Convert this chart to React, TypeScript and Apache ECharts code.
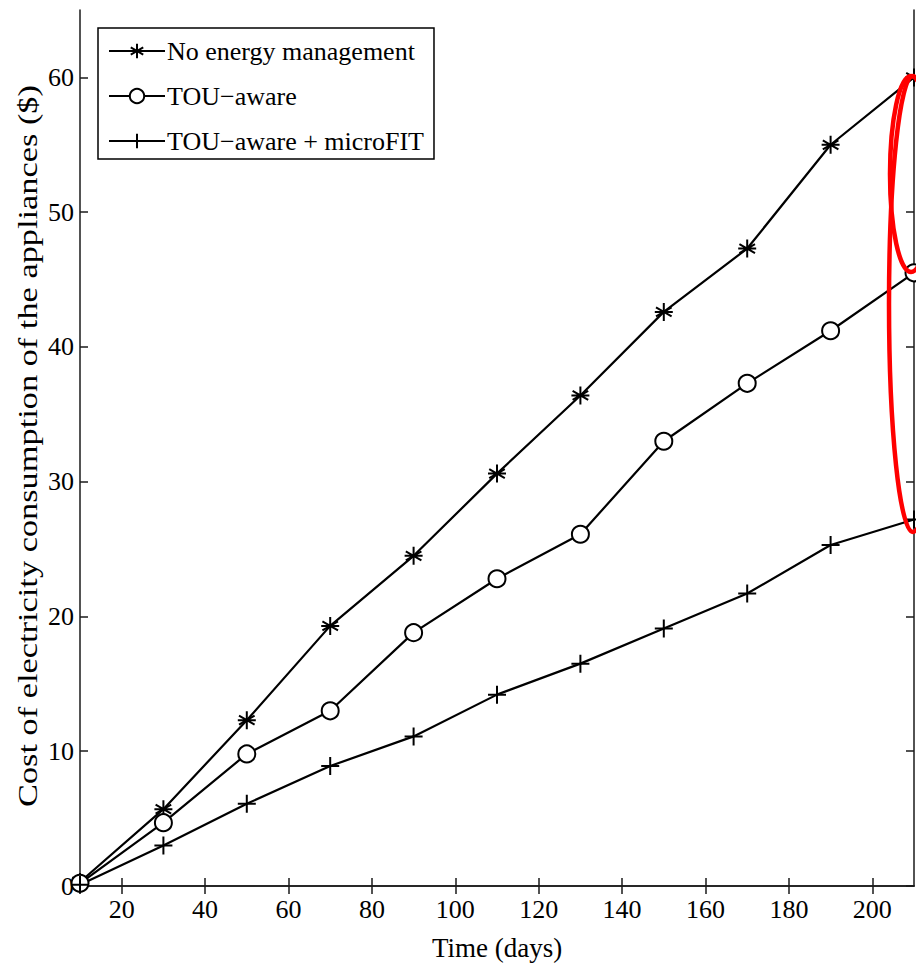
import React, { useEffect, useRef } from "react";
import * as echarts from "echarts";

const days = [10, 30, 50, 70, 90, 110, 130, 150, 170, 190, 210];
const noManagement = [0.3, 5.7, 12.3, 19.3, 24.5, 30.6, 36.4, 42.6, 47.3, 55.0, 60.0];
const touAware = [0.2, 4.7, 9.8, 13.0, 18.8, 22.8, 26.1, 33.0, 37.3, 41.2, 45.5];
const touMicroFit = [0.1, 3.0, 6.1, 8.9, 11.1, 14.2, 16.5, 19.1, 21.7, 25.3, 27.2];
const xTicks = [20, 40, 60, 80, 100, 120, 140, 160, 180, 200];
const yTicks = [0, 10, 20, 30, 40, 50, 60];
const seriesNames = ["No energy management", "TOU\u2212aware", "TOU\u2212aware + microFIT"];
const yTitle = "Cost of electricity consumption of the appliances ($)";

const FONT = "'Liberation Serif', 'Times New Roman', serif";
const STAR = "path://M0,-10L0,10M-8.66,-5L8.66,5M-8.66,5L8.66,-5M-10,0L10,0";
const PLUS = "path://M0,-10L0,10M-10,0L10,0";

function measure(text: string, font: string): number {
  try {
    const c = document.createElement("canvas").getContext("2d");
    if (!c) return 600;
    c.font = font;
    return c.measureText(text).width || 600;
  } catch (e) {
    return 600;
  }
}

export default function App() {
  const ref = useRef<HTMLDivElement>(null);
  useEffect(() => {
    if (!ref.current) return;
    const chart = echarts.init(ref.current, null, { renderer: "svg" });
    const pair = (ys: number[]) => days.map((d, i) => [d, ys[i]]);
    const axisLine = { show: true, lineStyle: { color: "#1a1a1a", width: 1.5 } };
    const tick = (vals: number[]) => ({
      show: true,
      inside: true,
      length: 8,
      customValues: vals,
      lineStyle: { color: "#1a1a1a", width: 1.5 },
    });
    const lineSeries = (name: string, ys: number[], symbol: string, size: number) => ({
      type: "line",
      name,
      data: pair(ys),
      symbol,
      symbolSize: size,
      showAllSymbol: true,
      lineStyle: { color: "#000", width: 2.2 },
      itemStyle: { color: "#000", borderColor: "#000", borderWidth: 2 },
      emphasis: { disabled: true },
      clip: false,
    });
    const titleFont = "28px 'Liberation Serif'";
    const titleW = measure(yTitle, titleFont);
    const titleScale = 722 / titleW;
    chart.setOption({
      animation: false,
      backgroundColor: "#fff",
      grid: { left: 80, right: 2, top: 10, bottom: 79, containLabel: false },
      legend: {
        show: true,
        left: 98,
        top: 28,
        orient: "vertical",
        data: seriesNames,
        itemWidth: 56,
        itemHeight: 18,
        itemGap: 19,
        padding: [10, 10, 5, 10],
        borderColor: "#000",
        borderWidth: 1.5,
        backgroundColor: "#fff",
        textStyle: { fontFamily: FONT, fontSize: 26, color: "#000", padding: [0, 0, 0, -3] },
      },
      xAxis: [
        {
          type: "value",
          min: 10,
          max: 210,
          position: "bottom",
          axisLine,
          axisTick: tick(xTicks),
          splitLine: { show: false },
          axisLabel: {
            customValues: xTicks,
            fontFamily: FONT,
            fontSize: 26,
            color: "#000",
            margin: 10,
          },
          name: "Time (days)",
          nameLocation: "middle",
          nameGap: 48,
          nameTextStyle: { fontFamily: FONT, fontSize: 27, color: "#000" },
        },
        {
          type: "value",
          min: 10,
          max: 210,
          position: "top",
          axisLine,
          axisTick: tick(xTicks),
          axisLabel: { show: false, customValues: xTicks },
          splitLine: { show: false },
        },
      ],
      yAxis: [
        {
          type: "value",
          min: 0,
          max: 65,
          position: "left",
          axisLine,
          axisTick: tick(yTicks),
          splitLine: { show: false },
          axisLabel: {
            customValues: yTicks,
            fontFamily: FONT,
            fontSize: 26,
            color: "#000",
            margin: 6,
          },
        },
        {
          type: "value",
          min: 0,
          max: 65,
          position: "right",
          axisLine,
          axisTick: tick(yTicks),
          axisLabel: { show: false, customValues: yTicks },
          splitLine: { show: false },
        },
      ],
      series: [
        lineSeries(seriesNames[0], noManagement, STAR, 18),
        lineSeries(seriesNames[1], touAware, "emptyCircle", 17),
        lineSeries(seriesNames[2], touMicroFit, PLUS, 18),
      ],
      graphic: [
        {
          type: "text",
          x: 28,
          y: 446,
          rotation: Math.PI / 2,
          scaleX: titleScale,
          style: {
            text: yTitle,
            fontFamily: FONT,
            fontSize: 28,
            fill: "#000",
            textAlign: "center",
            textVerticalAlign: "middle",
          },
        },
        {
          type: "ellipse",
          shape: { cx: 911, cy: 174, rx: 21, ry: 98 },
          style: { fill: "none", stroke: "#ff0000", lineWidth: 4.5 },
          z: 100,
        },
        {
          type: "ellipse",
          shape: { cx: 913, cy: 304, rx: 24, ry: 228 },
          style: { fill: "none", stroke: "#ff0000", lineWidth: 4.5 },
          z: 100,
        },
      ],
    });
    return () => chart.dispose();
  }, []);
  return (
    <div
      ref={ref}
      style={{ position: "absolute", left: 0, top: 0, width: 916, height: 966 }}
    />
  );
}
